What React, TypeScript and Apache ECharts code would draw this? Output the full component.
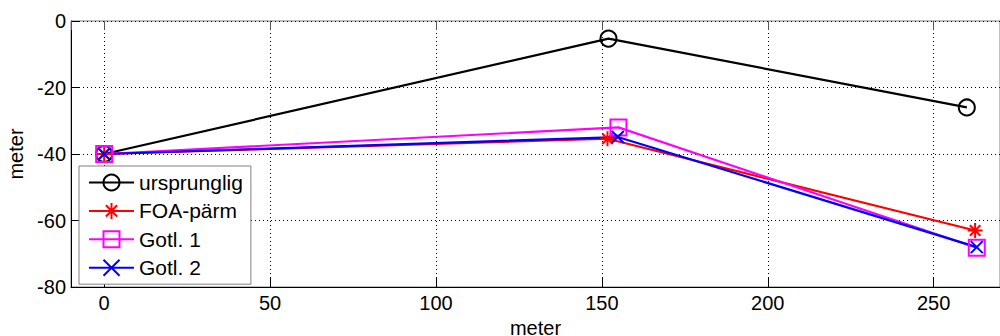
import React, { useEffect, useRef } from "react";
import * as echarts from "echarts";

const seriesNames = ["ursprunglig", "FOA-pärm", "Gotl. 1", "Gotl. 2"];
const ursX = [0, 152, 260];
const ursY = [-40, -5.3, -26];
const foaX = [0, 151.7, 262.5];
const foaY = [-40, -35.4, -63];
const gotl1X = [0, 155, 263];
const gotl1Y = [-40, -32, -68.2];
const gotl2X = [0, 154.8, 263];
const gotl2Y = [-40, -34.9, -68];

const FONT = "'Liberation Sans', Arial, Helvetica, sans-serif";
const ASTERISK = "path://M0,-1L0,1M-1,0L1,0M-0.7,-0.7L0.7,0.7M-0.7,0.7L0.7,-0.7";
const XMARK = "path://M-1,-1L1,1M-1,1L1,-1";

function pairs(xs: number[], ys: number[]) {
  return xs.map((x, i) => [x, ys[i]]);
}

export default function App() {
  const ref = useRef<HTMLDivElement>(null);
  useEffect(() => {
    if (!ref.current) return;
    const chart = echarts.init(ref.current, null, { renderer: "svg" });
    const mk = (
      name: string,
      xs: number[],
      ys: number[],
      color: string,
      symbol: string,
      size: number
    ) => ({
      name,
      type: "line",
      data: pairs(xs, ys),
      xAxisIndex: 0,
      yAxisIndex: 0,
      symbol,
      symbolSize: size,
      showAllSymbol: true,
      lineStyle: { color, width: 2.2 },
      itemStyle: { color: "rgba(0,0,0,0)", borderColor: color, borderWidth: 2 },
      emphasis: { disabled: true },
    });
    chart.setOption({
      animation: false,
      backgroundColor: "#fff",
      textStyle: { fontFamily: FONT },
      grid: {
        left: 71,
        top: 21,
        width: 929,
        height: 266,
        containLabel: false,
        outerBoundsMode: "none",
        show: true,
        borderColor: "#808080",
        borderWidth: 1,
        backgroundColor: "transparent",
      },
      legend: {
        orient: "vertical",
        left: 79,
        top: 166,
        width: 168,
        data: seriesNames,
        backgroundColor: "#fff",
        borderColor: "#808080",
        borderWidth: 1,
        borderRadius: 0,
        padding: [6, 8, 6, 9],
        itemWidth: 45,
        itemHeight: 20,
        itemGap: 7.4,
        selectedMode: false,
        textStyle: { fontFamily: FONT, fontSize: 21, color: "#000" },
      },
      xAxis: [
        {
          type: "value",
          min: -10,
          max: 270,
          splitNumber: 6,
          position: "bottom",
          name: "meter",
          nameLocation: "middle",
          nameGap: 25,
          nameTextStyle: { fontFamily: FONT, fontSize: 20, lineHeight: 20, color: "#000" },
          axisLine: { show: true, onZero: false, lineStyle: { color: "#000", width: 1 } },
          axisTick: { show: true, inside: true, length: 9, lineStyle: { color: "#000" } },
          axisLabel: {
            fontFamily: FONT,
            fontSize: 20,
            color: "#000",
            margin: 6,
            showMinLabel: false,
            showMaxLabel: false,
          },
          splitLine: { show: true, lineStyle: { color: "#000", type: [1, 3], width: 1 } },
        },
        {
          type: "value",
          min: -10,
          max: 270,
          splitNumber: 6,
          position: "top",
          axisLine: { show: false },
          axisTick: { show: true, inside: true, length: 9, lineStyle: { color: "#555" } },
          axisLabel: { show: false },
          splitLine: { show: false },
        },
      ],
      yAxis: [
        {
          type: "value",
          min: -80,
          max: 0,
          interval: 20,
          name: "meter",
          nameLocation: "middle",
          nameGap: 42,
          nameTextStyle: { fontFamily: FONT, fontSize: 20, color: "#000" },
          axisLine: { show: true, onZero: false, lineStyle: { color: "#000", width: 1 } },
          axisTick: { show: true, inside: true, length: 9, lineStyle: { color: "#000" } },
          axisLabel: { fontFamily: FONT, fontSize: 20, color: "#000", margin: 5 },
          splitLine: { show: true, lineStyle: { color: "#000", type: [1, 3], width: 1 } },
        },
      ],
      series: [
        mk(seriesNames[0], ursX, ursY, "#000000", "circle", 16),
        mk(seriesNames[1], foaX, foaY, "#ff0000", ASTERISK, 15),
        mk(seriesNames[2], gotl1X, gotl1Y, "#ff00ff", "rect", 16),
        mk(seriesNames[3], gotl2X, gotl2Y, "#0000ff", XMARK, 12),
      ],
    });
    return () => chart.dispose();
  }, []);
  return (
    <div
      ref={ref}
      style={{ position: "fixed", left: 0, top: 0, width: 1000, height: 336 }}
    />
  );
}
